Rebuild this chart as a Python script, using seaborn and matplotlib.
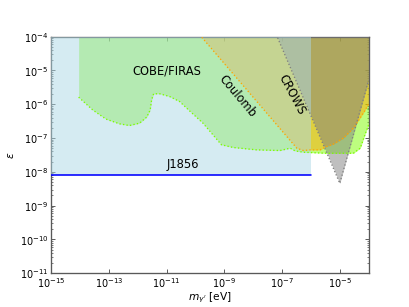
import numpy as np
import matplotlib
matplotlib.use('Agg')
import matplotlib.pyplot as plt
import seaborn as sns
from matplotlib.ticker import NullLocator

# values (log10 of m [eV] and of epsilon)
cobe_log_m = [-14.05, -13.56, -13.10, -12.63, -12.29, -11.94, -11.69, -11.57, -11.52,
              -11.45, -11.24, -10.90, -10.55, -10.20, -9.74, -9.39, -9.10, -8.69,
              -7.88, -7.07, -6.72, -6.55, -6.26, -5.50, -4.53, -4.29, -4.11, -4.0]
cobe_log_eps = [-5.79, -6.17, -6.44, -6.58, -6.63, -6.56, -6.38, -6.17, -5.87,
                -5.69, -5.69, -5.77, -5.92, -6.20, -6.56, -6.91, -7.20, -7.28,
                -7.35, -7.37, -7.30, -7.38, -7.42, -7.45, -7.45, -7.30, -6.86, -6.61]

coulomb_log_m = [-9.86, -6.49, -6.26, -6.03, -5.68, -5.45, -5.22, -4.87, -4.52, -4.29, -4.11, -4.0]
coulomb_log_eps = [-3.94, -7.30, -7.37, -7.35, -7.35, -7.25, -7.18, -7.00, -6.70, -6.40, -6.16, -5.99]

crows_log_m = [-7.25, -5.0, -4.0]
crows_log_eps = [-3.84, -8.34, -5.29]

j1856_m = [1e-15, 1e-6]
j1856_eps = [8e-9, 8e-9]

top = 1e-3

sns.set_style("ticks", {'text.color': 'black', 'axes.labelcolor': 'black',
                        'xtick.color': 'black', 'ytick.color': 'black'})
plt.rcParams['font.family'] = ['DejaVu Sans']

fig, ax = plt.subplots(figsize=(6.4, 4.8), dpi=64)
ax.set_xscale('log')
ax.set_yscale('log')

cm, ce = np.power(10.0, cobe_log_m), np.power(10.0, cobe_log_eps)
km, ke = np.power(10.0, coulomb_log_m), np.power(10.0, coulomb_log_eps)
rm, re = np.power(10.0, crows_log_m), np.power(10.0, crows_log_eps)

# filled regions, alpha layered (blue one sits on top)
ax.fill_between(cm, ce, top, color='lawngreen', alpha=0.5, lw=0, zorder=1)
ax.fill_between(km, ke, top, color='orange', alpha=0.5, lw=0, zorder=2)
ax.fill_between(rm, re, top, color='gray', alpha=0.5, lw=0, zorder=3)
ax.fill_between(j1856_m, j1856_eps, top, color='lightblue', alpha=0.5, lw=0, zorder=4)

# dotted edges
sns.lineplot(x=cm, y=ce, ax=ax, color='lawngreen', linestyle=':', lw=1.5, estimator=None, zorder=5)
sns.lineplot(x=km, y=ke, ax=ax, color='orange', linestyle=':', lw=1.5, estimator=None, zorder=5)
sns.lineplot(x=rm, y=re, ax=ax, color='gray', linestyle=':', lw=1.5, estimator=None, zorder=5)
sns.lineplot(x=j1856_m, y=j1856_eps, ax=ax, color='blue', lw=1.8, estimator=None, zorder=6)

ax.text(1e-11, 1e-5, 'COBE/FIRAS', fontsize=13, ha='center', va='center', zorder=7)
ax.text(1e-11, 1.28e-8, 'J1856', fontsize=13, ha='left', va='baseline', zorder=7)
ax.text(10**-8.55, 10**-5.75, 'Coulomb', fontsize=13, rotation=-50,
        ha='center', va='center', zorder=7)
ax.text(10**-6.67, 10**-5.70, 'CROWS', fontsize=13, rotation=-62,
        ha='center', va='center', zorder=7)

ax.set_xlim(1e-15, 1e-4)
ax.set_ylim(1e-11, 1e-4)
ax.set_xticks([1e-15, 1e-13, 1e-11, 1e-9, 1e-7, 1e-5])
ax.xaxis.set_minor_locator(NullLocator())
ax.set_xlabel(r"$m_{\gamma'}$ [eV]", fontsize=12, labelpad=0)
ax.set_ylabel(r'$\epsilon$', fontsize=12)

ax.tick_params(which='both', direction='in', top=True, right=True,
               color='0.3', labelcolor='black', labelsize=11)
ax.tick_params(which='major', length=5, width=1)
ax.tick_params(which='minor', length=2.5, width=0.8)
for s in ax.spines.values():
    s.set_color('0.35')
    s.set_linewidth(1.5)

fig.savefig('out.png', dpi=64)
